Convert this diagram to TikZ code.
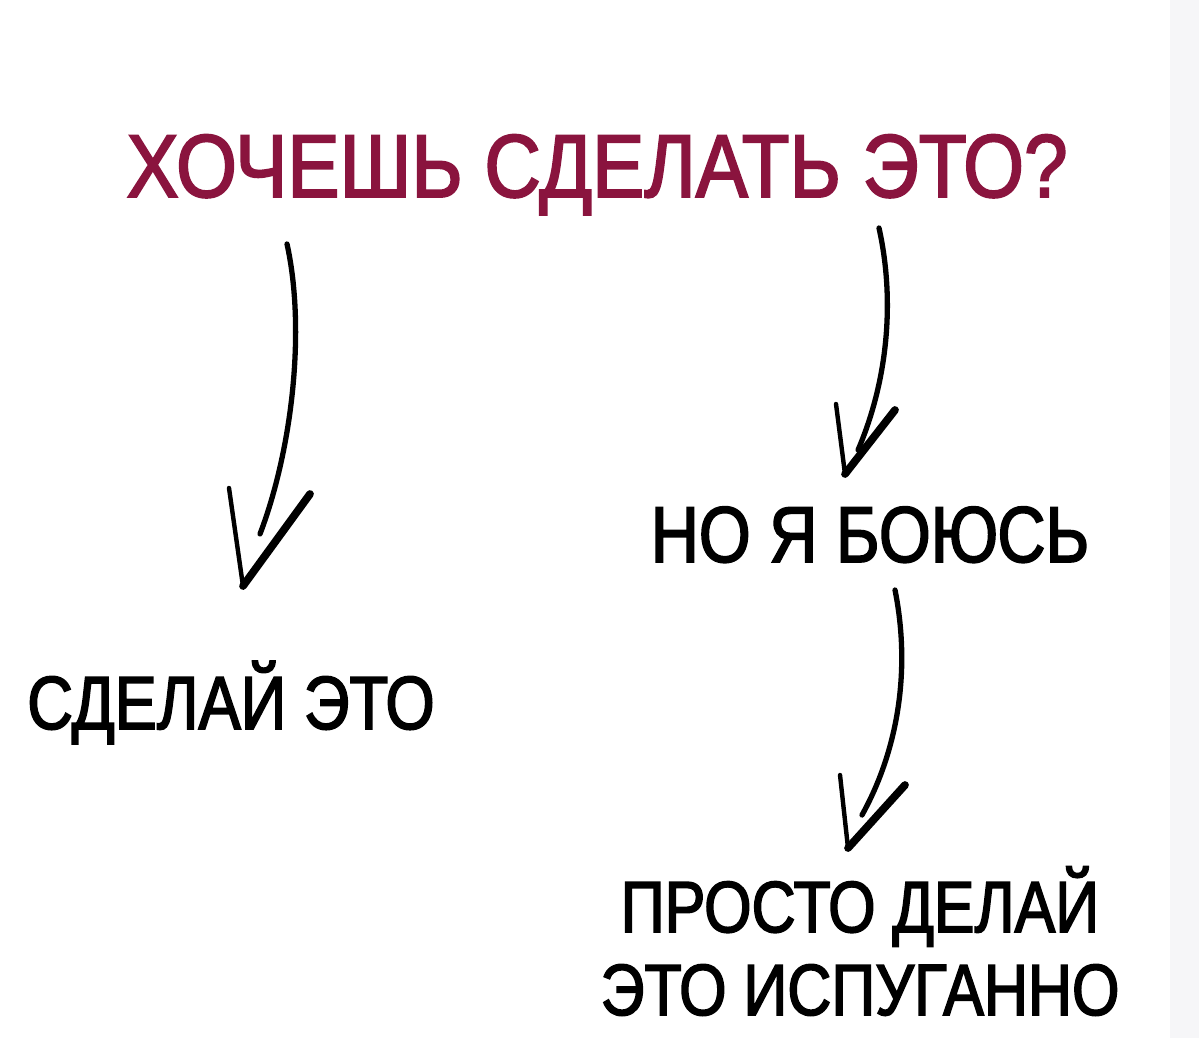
\documentclass[tikz,border=0pt]{standalone}
\usepackage{fontspec}
\setmainfont{Liberation Sans}
\newfontfamily\condfont[FakeStretch=0.84, FakeBold=2.1]{Liberation Sans}
\newfontfamily\titlefont[FakeStretch=0.875, FakeBold=2.1]{Liberation Sans}
\usetikzlibrary{positioning}
\definecolor{wine}{RGB}{138,20,62}
\definecolor{edgegray}{RGB}{246,246,248}

\begin{document}
\begin{tikzpicture}[x=0.567pt, y=-0.567pt,
	question/.style={font=\titlefont\fontsize{50.7}{58}\selectfont, text=wine, inner sep=0pt},
	answer/.style={font=\condfont\fontsize{41.2}{47}\selectfont, inner sep=0pt, align=center},
	shaft/.style={line width=3pt, line cap=round},
	barb/.style={line width=2.5pt, line cap=round},
	heavy barb/.style={line width=4.4pt, line cap=round}]
	% Canvas
	\useasboundingbox (0,0) rectangle (1199,1038);
	\fill[white] (0,0) rectangle (1199,1038);
	\fill[edgegray] (1170,0) rectangle (1199,1038);
	
	% Texts
	\node[question, anchor=base] (want) at (597,197) {ХОЧЕШЬ СДЕЛАТЬ ЭТО?};
	\node[answer, anchor=base, font=\condfont\fontsize{42.8}{49}\selectfont] (doit) at (231,729) {СДЕЛАЙ ЭТО};
	\node[answer, anchor=base, font=\condfont\fontsize{45}{52}\selectfont] (afraid) at (870,562) {НО Я БОЮСЬ};
	\node[answer, anchor=base] (justdo) at (860,1015) {ПРОСТО ДЕЛАЙ\\ЭТО ИСПУГАННО};
	
	% Arrow ends
	\coordinate (want-l) at (287,244);
	\coordinate (want-r) at (879,228);
	\coordinate (afraid-b) at (895,590);
	\coordinate (doit-t) at (243,586);
	\coordinate (afraid-t) at (845,474);
	\coordinate (justdo-t) at (848,848);
	
	% Arrows
	\draw[shaft] (want-l) .. controls (306,330) and (292,450) .. (260,534);
	\draw[barb] (229,488) -- (doit-t);
	\draw[heavy barb] (doit-t) -- (310,494);
	
	\draw[shaft] (want-r) .. controls (895,300) and (888,380) .. (858,450);
	\draw[barb] (836,404) -- (afraid-t);
	\draw[heavy barb] (afraid-t) -- (895,410);
	
	\draw[shaft] (afraid-b) .. controls (911,670) and (898,750) .. (862,815);
	\draw[barb] (840,775) -- (justdo-t);
	\draw[heavy barb] (justdo-t) -- (905,785);
\end{tikzpicture}
\end{document}
